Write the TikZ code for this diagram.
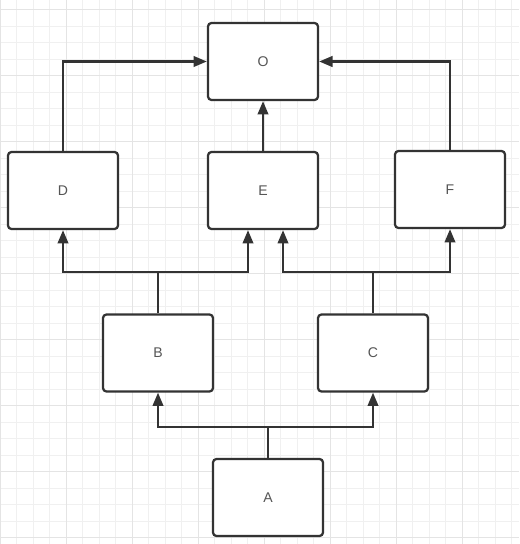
\documentclass[tikz,border=0pt]{standalone}
\usepackage{fontspec}
\setsansfont{Liberation Sans}
\usetikzlibrary{arrows.meta,calc}

\definecolor{gridminor}{HTML}{F0F0F0}
\definecolor{gridmajor}{HTML}{E4E4E4}
\definecolor{boxline}{HTML}{333333}
\definecolor{labelgray}{HTML}{555555}

\tikzset{
  box/.style={draw=boxline,line width=1.6pt,rounded corners=2.5pt,fill=white,
    minimum width=2.75cm,minimum height=1.925cm,inner sep=0pt,
    font=\sffamily\normalsize,text=labelgray},
  wire/.style={draw=boxline,line width=1.6pt},
  link/.style={wire,-{Triangle[length=9.5pt,width=7.5pt]}}
}

\begin{document}
\begin{tikzpicture}[x=0.025cm,y=-0.025cm]
		\useasboundingbox (0,0) rectangle (519,544);
		\fill[white] (0,0) rectangle (519,544);
		%% the grid
		\foreach \k in {0,...,31}
			\draw[gridminor,line width=0.6pt] (16.5*\k,0) -- (16.5*\k,544);
		\foreach \k in {0,...,32}
			\draw[gridminor,line width=0.6pt] (0,9.7+16.5*\k) -- (519,9.7+16.5*\k);
		\foreach \k in {0,4,...,28}
			\draw[gridmajor,line width=0.6pt] (16.5*\k,0) -- (16.5*\k,544);
		\foreach \k in {0,4,...,32}
			\draw[gridmajor,line width=0.6pt] (0,9.7+16.5*\k) -- (519,9.7+16.5*\k);
		%% the boxes
		\node[box] (O) at (263,61.5) {O};
		\node[box] (D) at (63,190.5) {D};
		\node[box] (E) at (263,190.5) {E};
		\node[box] (F) at (450,189.5) {F};
		\node[box] (B) at (158,353) {B};
		\node[box] (C) at (373,353) {C};
		\node[box] (A) at (268,497.5) {A};
		%% the joints
		\coordinate (ajoin) at (268,427);
		\coordinate (bjoin) at (158,272);
		\coordinate (cjoin) at (373,272);
		%% the connectors
		\draw[wire] (A.north) -- (ajoin);
		\draw[link] (ajoin) -| (B.south);
		\draw[link] (ajoin) -| (C.south);
		\draw[wire] (B.north) -- (bjoin);
		\draw[link] (bjoin) -| (D.south);
		\draw[link] (bjoin) -| ($(E.south)+(-15,0)$);
		\draw[wire] (C.north) -- (cjoin);
		\draw[link] (cjoin) -| ($(E.south)+(20,0)$);
		\draw[link] (cjoin) -| (F.south);
		\draw[link] (D.north) |- (O.west);
		\draw[link] (E.north) -- (O.south);
		\draw[link] (F.north) |- (O.east);
\end{tikzpicture}
\end{document}
